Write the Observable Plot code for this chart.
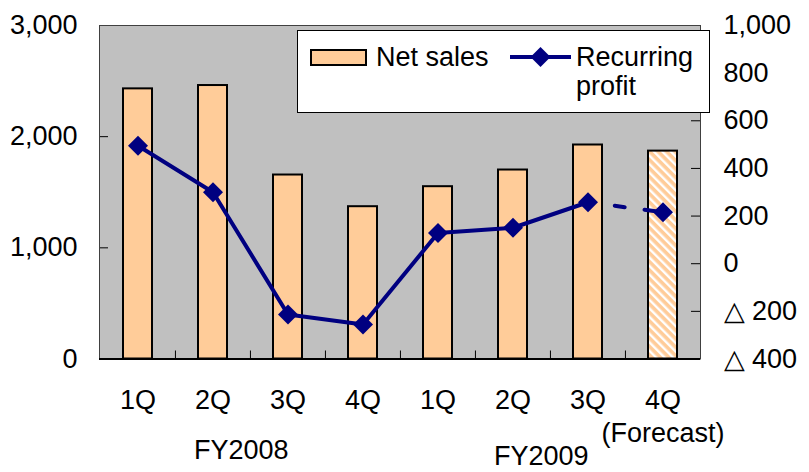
<!DOCTYPE html>
<html><head><meta charset="utf-8">
<script src="https://cdn.jsdelivr.net/npm/d3@7"></script>
<script src="https://cdn.jsdelivr.net/npm/@observablehq/plot@0.6"></script>
<style>body{margin:0;background:#fff}</style>
</head><body><div id="chart"></div>
<script>
// ---- data ----
const quarters = ["1Q","2Q","3Q","4Q","1Q","2Q","3Q","4Q"];
const fiscalYears = ["FY2008","FY2008","FY2008","FY2008","FY2009","FY2009","FY2009","FY2009"];
const netSales = [2430, 2460, 1655, 1370, 1550, 1700, 1925, 1870];
const recurringProfit = [495, 300, -213, -255, 129, 151, 258, 216];
const isForecast = [false,false,false,false,false,false,false,true];
const forecastNote = "(Forecast)";
const leftTicks = [0, 1000, 2000, 3000];
const leftInnerTicks = [1000, 2000];
const rightDomain = [-400, 1000];
const rightTicks = [-400,-200,0,200,400,600,800,1000];
const rightTickLabels = ["△ 400","△ 200","0","200","400","600","800","1,000"];
const fyLabels = [{label:"FY2008", at:"FY2008 2Q", row:0}, {label:"FY2009", at:"FY2009 2Q", row:1}];
const legendSales = "Net sales";
const legendProfit = ["Recurring", "profit"];

// ---- derived ----
const leftDomain = [0, 3000];
const toLeft = p => (p - rightDomain[0]) * (leftDomain[1] - leftDomain[0]) / (rightDomain[1] - rightDomain[0]);
const rows = quarters.map((q, i) => ({
  key: fiscalYears[i] + " " + q, quarter: q, sales: netSales[i],
  profit: recurringProfit[i], py: toLeft(recurringProfit[i]), forecast: isForecast[i]
}));
const keys = rows.map(d => d.key);
const actual = rows.filter(d => !d.forecast);
const forecast = rows.filter(d => d.forecast);
const lastActual = actual[actual.length - 1];
const dashRows = [lastActual, ...forecast];

const FONT = "'Liberation Sans', Arial, sans-serif";
const NAVY = "#000080";
const ORANGE = "#FFCC99";

const plot = Plot.plot({
  width: 809, height: 472,
  marginLeft: 99, marginRight: 109, marginTop: 25, marginBottom: 113.5,
  x: {type: "band", domain: keys, paddingInner: 0.614, paddingOuter: 0.307, axis: null},
  y: {domain: leftDomain, axis: null},
  style: {fontFamily: FONT, fontSize: "27px", color: "black", background: "white", overflow: "visible"},
  marks: [
    Plot.frame({fill: "#c0c0c0", stroke: null}),
    Plot.barY(actual, {x: "key", y: "sales", fill: ORANGE, stroke: "black", strokeWidth: 2}),
    Plot.barY(forecast, {x: "key", y: "sales", fill: "url(#hatch)", stroke: "black", strokeWidth: 2}),
    Plot.line(actual, {x: "key", y: "py", stroke: NAVY, strokeWidth: 4}),
    Plot.line(dashRows, {x: "key", y: "py", stroke: NAVY, strokeWidth: 4, strokeDasharray: "0,27,10,20,80"}),
    Plot.dot(rows, {x: "key", y: "py", symbol: "diamond2", r: 9, fill: NAVY, stroke: null}),
    Plot.tickY(leftInnerTicks, {y: d => d, stroke: "black", insetRight: 592}),
    Plot.tickY(rightTicks.slice(1, -1), {y: d => toLeft(d), stroke: "black", insetLeft: 592}),
    Plot.tickX(keys.slice(1), {x: d => d, dx: -37.56, stroke: "black", insetTop: 325.5}),
    Plot.frame({stroke: "#404040", strokeWidth: 1}),
    Plot.ruleY([0], {stroke: "black", strokeWidth: 2}),
    Plot.axisY(leftTicks, {anchor: "left", tickSize: 0, tickPadding: 22, tickFormat: d3.format(","), fill: "black"}),
    Plot.text(rightTicks, {y: d => toLeft(d), text: (d, i) => rightTickLabels[i], frameAnchor: "right", dx: 23, textAnchor: "start", fill: "black"}),
    Plot.text(rows, {x: "key", text: "quarter", frameAnchor: "bottom", lineAnchor: "top", dy: 31, fill: "black"}),
    Plot.text(forecast, {x: "key", text: () => forecastNote, frameAnchor: "bottom", lineAnchor: "top", dy: 64, fill: "black"}),
    Plot.text(fyLabels, {x: "at", text: "label", frameAnchor: "bottom", lineAnchor: "top", textAnchor: "start", dx: -19, fill: "black", filter: d => d.row === 0, dy: 81}),
    Plot.text(fyLabels, {x: "at", text: "label", frameAnchor: "bottom", lineAnchor: "top", textAnchor: "start", dx: -19, fill: "black", filter: d => d.row === 1, dy: 87})
  ]
});

const svg = d3.select(plot);
// hatch pattern for forecast bar
const defs = svg.insert("defs", ":first-child");
const pat = defs.append("pattern").attr("id", "hatch").attr("patternUnits", "userSpaceOnUse")
  .attr("width", 6).attr("height", 6).attr("patternTransform", "rotate(-45)");
pat.append("rect").attr("width", 6).attr("height", 6).attr("fill", ORANGE);
pat.append("rect").attr("width", 2.4).attr("height", 6).attr("fill", "white");

// legend
const lg = svg.append("g").attr("font-family", FONT).attr("font-size", 27).attr("fill", "black")
  .attr("text-anchor", "start");
lg.append("rect").attr("x", 297.5).attr("y", 30.5).attr("width", 412).attr("height", 82)
  .attr("fill", "white").attr("stroke", "black").attr("stroke-width", 1);
lg.append("rect").attr("x", 311).attr("y", 50).attr("width", 55).attr("height", 15)
  .attr("fill", ORANGE).attr("stroke", "black").attr("stroke-width", 2);
lg.append("text").attr("x", 376).attr("y", 66).attr("text-anchor", "start").text(legendSales);
lg.append("line").attr("x1", 510).attr("x2", 571).attr("y1", 57).attr("y2", 57)
  .attr("stroke", NAVY).attr("stroke-width", 4);
lg.append("path").attr("d", d3.symbol(d3.symbolDiamond2, Math.PI * 81)())
  .attr("transform", "translate(540.5,57)").attr("fill", NAVY);
lg.append("text").attr("x", 576).attr("y", 66).attr("text-anchor", "start").text(legendProfit[0]);
lg.append("text").attr("x", 576).attr("y", 95).attr("text-anchor", "start").text(legendProfit[1]);

document.getElementById("chart").appendChild(plot);
</script>
</body></html>
